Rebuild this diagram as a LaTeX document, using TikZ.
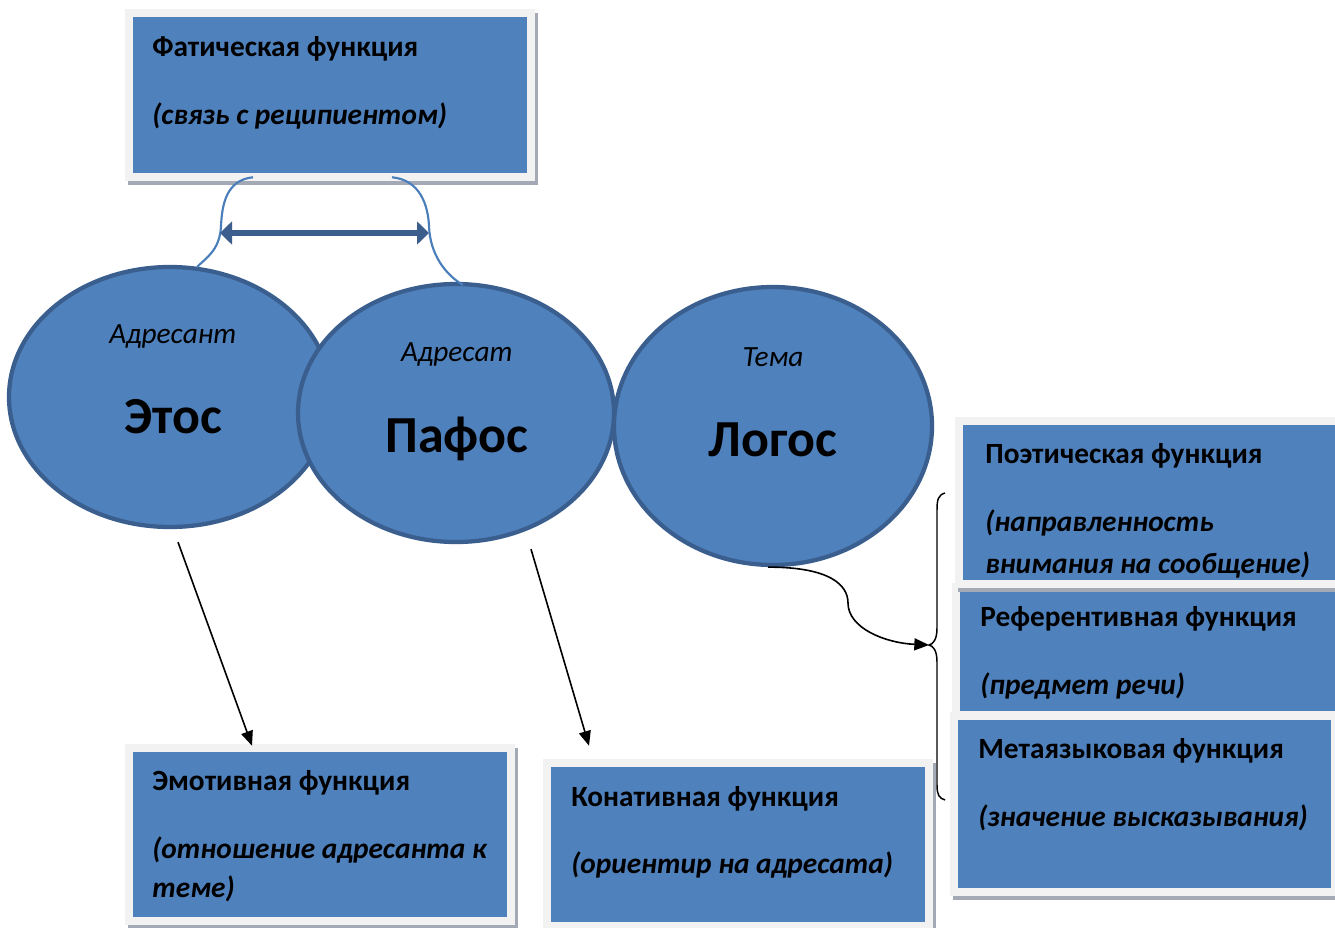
\documentclass[tikz,border=0pt]{standalone}
\usepackage{fontspec}
\setmainfont{Carlito}
\usetikzlibrary{arrows.meta,calc,shapes.geometric}
\definecolor{fillblue}{HTML}{4F81BD}
\definecolor{edgeblue}{HTML}{3A5F8E}
\definecolor{curveblue}{HTML}{4A7EBB}
\definecolor{framegray}{HTML}{F2F2F2}
\definecolor{shadowgray}{HTML}{A3AAB6}
\definecolor{arrowblue}{HTML}{3B5E8C}
\begin{document}
\begin{tikzpicture}[x=0.75pt,y=-0.75pt,
  fbox/.style={rectangle, inner sep=0pt, fill=fillblue, line join=miter,
    preaction={draw=shadowgray, line width=12pt, transform canvas={shift={(2.25pt,-3pt)}}},
    preaction={draw=framegray, line width=12pt}},
  oval/.style={ellipse, inner sep=0pt, fill=fillblue, draw=edgeblue, line width=3.2pt},
  ttl/.style={anchor=base west, inner sep=0pt, font=\fontsize{22pt}{26pt}\selectfont\bfseries},
  sub/.style={anchor=base west, inner sep=0pt, font=\fontsize{22pt}{26pt}\selectfont\bfseries\itshape},
  small/.style={anchor=base, inner sep=0pt, font=\fontsize{22pt}{26pt}\selectfont\itshape},
  big/.style={anchor=base, inner sep=0pt, font=\fontsize{39pt}{44pt}\selectfont\bfseries},
  blk/.style={draw=black, line width=1.2pt, -{Triangle[length=11pt,width=9pt]}},
  thin/.style={draw=curveblue, line width=1.6pt},
  dbl/.style={draw=arrowblue, line width=5pt, {Triangle[length=9pt,width=17pt]}-{Triangle[length=9pt,width=17pt]}}
]
\useasboundingbox (0,0) rectangle (1335,928);
\fill[white] (0,0) rectangle (1335,928);

% boxes
\node[fbox, minimum width=394*0.75pt, minimum height=156*0.75pt] (fatic) at (330,95) {};
\node[fbox, minimum width=374*0.75pt, minimum height=165*0.75pt] (emo) at (320,834.5) {};
\node[fbox, minimum width=374*0.75pt, minimum height=155*0.75pt] (kon) at (738,844.5) {};
\node[fbox, minimum width=385*0.75pt, minimum height=120*0.75pt] (ref) at (1152.5,651) {};
\node[fbox, minimum width=382*0.75pt, minimum height=155*0.75pt] (poet) at (1154,502.5) {};
\node[fbox, minimum width=373*0.75pt, minimum height=168*0.75pt] (meta) at (1144.5,804) {};

% box texts
\node[ttl] (t1) at (152,56) {Фатическая функция};
\node[sub] (s1) at (152,124) {(связь с реципиентом)};
\node[ttl] (t2) at (152,790) {Эмотивная функция};
\node[sub] (s2a) at (152,858) {(отношение адресанта к};
\node[sub] (s2b) at (152,897) {теме)};
\node[ttl] (t3) at (571,806) {Конативная функция};
\node[sub] (s3) at (571,873) {(ориентир на адресата)};
\node[ttl] (t4) at (985,463) {Поэтическая функция};
\node[sub] (s4a) at (985,531) {(направленность};
\node[sub] (s4b) at (985,573) {внимания на сообщение)};
\node[ttl] (t5) at (980,626) {Референтивная функция};
\node[sub] (s5) at (980,694) {(предмет речи)};
\node[ttl] (t6) at (978,758) {Метаязыковая функция};
\node[sub] (s6) at (978,826) {(значение высказывания)};

% ellipses
\node[oval, minimum width=322*0.75pt, minimum height=260*0.75pt] (etos) at (170,397) {};
\node[oval, minimum width=316*0.75pt, minimum height=258*0.75pt] (pafos) at (456,413) {};
\node[oval, minimum width=318*0.75pt, minimum height=278*0.75pt] (logos) at (773,426) {};

\node[small] (a1) at (173,343) {Адресант};
\node[big] (b1) at (173,433) {Этос};
\node[small] (a2) at (457,361) {Адресат};
\node[big] (b2) at (457,452) {Пафос};
\node[small] (a3) at (773,366) {Тема};
\node[big] (b3) at (773,456) {Логос};

% blue connectors from fatic box
\draw[thin] ([shift={(-77,4)}]fatic.south) .. controls (226,180) and (222,205) .. (221,226)
  .. controls (220,250) and (206,258) .. ([shift={(27,-130)}]etos.center);
\draw[thin] ([shift={(62,4)}]fatic.south) .. controls (420,180) and (428,205) .. (429,226)
  .. controls (430,255) and (446,275) .. ([shift={(7,-128)}]pafos.center);
\coordinate (dl) at (220,233);
\coordinate (dr) at (429,233);
\draw[dbl] (dl) -- (dr);

% black arrows
\draw[blk] ([shift={(8,13)}]etos.south) -- ([shift={(-68,-6)}]emo.north);
\draw[blk] ([shift={(75,5)}]pafos.south) -- ([shift={(-149,-21)}]kon.north);

% brace
\coordinate (tip) at (929,645);
\draw[black, line width=1.1pt] (945,493) .. controls (938,495) and (937,500) .. (937,510) -- (937,628)
  .. controls (937,640) and (933,644) .. (tip) .. controls (933,646) and (937,650) .. (937,662)
  -- (937,785) .. controls (937,795) and (939,798) .. (945,800);
\draw[blk] ([shift={(-5,0)}]logos.south) .. controls (830,567) and (848,585) .. (848,603)
  .. controls (848,628) and (885,643) .. (tip);
\end{tikzpicture}
\end{document}
